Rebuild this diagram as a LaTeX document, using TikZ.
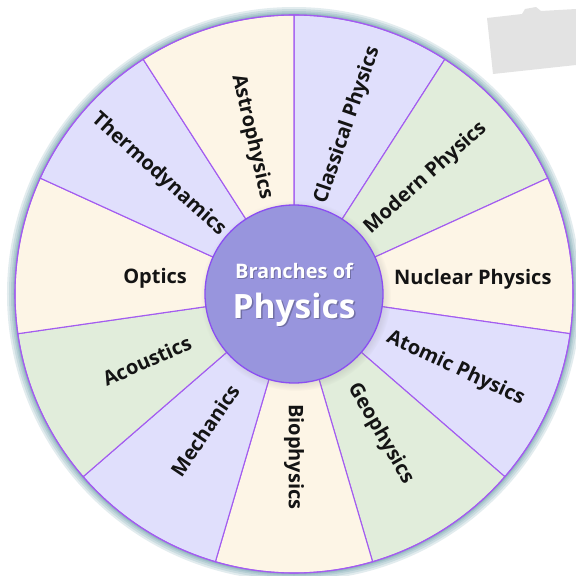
\documentclass[tikz,border=0pt]{standalone}
\usepackage{fontspec}
\setmainfont{Open Sans}
\usetikzlibrary{shadows}

\definecolor{lav}{HTML}{E0DFFC}
\definecolor{sage}{HTML}{E1EDDB}
\definecolor{cream}{HTML}{FDF5E6}
\definecolor{spoke}{HTML}{A35CF0}
\definecolor{hubfill}{HTML}{9895DD}
\definecolor{halo}{HTML}{3F7F8F}

\begin{document}
\begin{tikzpicture}[x=1pt,y=1pt,
    slice/.style={draw=spoke, line width=1.1pt},
    branch/.style={font=\bfseries\fontsize{20}{20}\selectfont, text=black!92, inner sep=0pt},
    hub/.style={circle, draw=spoke!85!blue, line width=1.3pt, fill=hubfill,
                minimum size=178pt, inner sep=0pt,
                circular drop shadow={shadow scale=1.07, opacity=.35}},
    hubtext/.style={text=white, anchor=base, inner sep=0pt}]

  \useasboundingbox (-294,-282) rectangle (282,294);

  % grey scrap top right
  \fill[black!11] (193,276) -- (228,280) -- (231,285) -- (242,287) -- (247,283)
    -- (282,285) -- (282,229) -- (199,220) -- cycle;

  % soft halo round the wheel
  \foreach \w in {16,12,8,5,3}
    \draw[halo, opacity=.15, line width=\w pt] (0,0) circle (279);

  % eleven slices
  \foreach \i/\col in {0/lav,1/sage,2/cream,3/lav,4/sage,5/cream,
                       6/lav,7/sage,8/cream,9/lav,10/cream}{
    \pgfmathsetmacro\a{90-\i*360/11}
    \filldraw[slice, fill=\col] (0,0) -- (\a:279)
      arc[start angle=\a, delta angle=-360/11, radius=279] -- cycle;
  }
  \draw[slice] (0,0) circle (279);

  % branch labels: angle / rotation / radius / anchor / text
  \foreach \ang/\rot/\r/\anc/\txt [count=\n] in {
      73.64/71/95/west/Classical Physics,
      40.91/42/97/west/Modern Physics,
      8.18/0/101/west/Nuclear Physics,
      -24.55/-25/103/west/Atomic Physics,
      -57.27/-60/108/west/Geophysics,
      -90/-90/110/west/Biophysics,
      -122.73/56/110/east/Mechanics,
      -155.45/24/114/east/Acoustics,
      171.82/0/108/east/Optics,
      139.09/-42/94/east/Thermodynamics,
      106.36/-77/99/east/Astrophysics}
    \node[branch, rotate=\rot, anchor=\anc] (br\n) at (\ang:\r) {\txt};

  % centre
  \node[hub] (hub) at (0,0) {};
  \node[hubtext, text=black, opacity=.25, font=\bfseries\fontsize{20}{20}\selectfont]
    at (1,15) {Branches of};
  \node[hubtext, font=\bfseries\fontsize{20}{20}\selectfont] (hub1) at (0,16) {Branches of};
  \node[hubtext, text=black, opacity=.25, font=\bfseries\fontsize{33.5}{33.5}\selectfont]
    at (1.5,-25.5) {Physics};
  \node[hubtext, font=\bfseries\fontsize{33.5}{33.5}\selectfont] (hub2) at (0,-24) {Physics};
\end{tikzpicture}
\end{document}
